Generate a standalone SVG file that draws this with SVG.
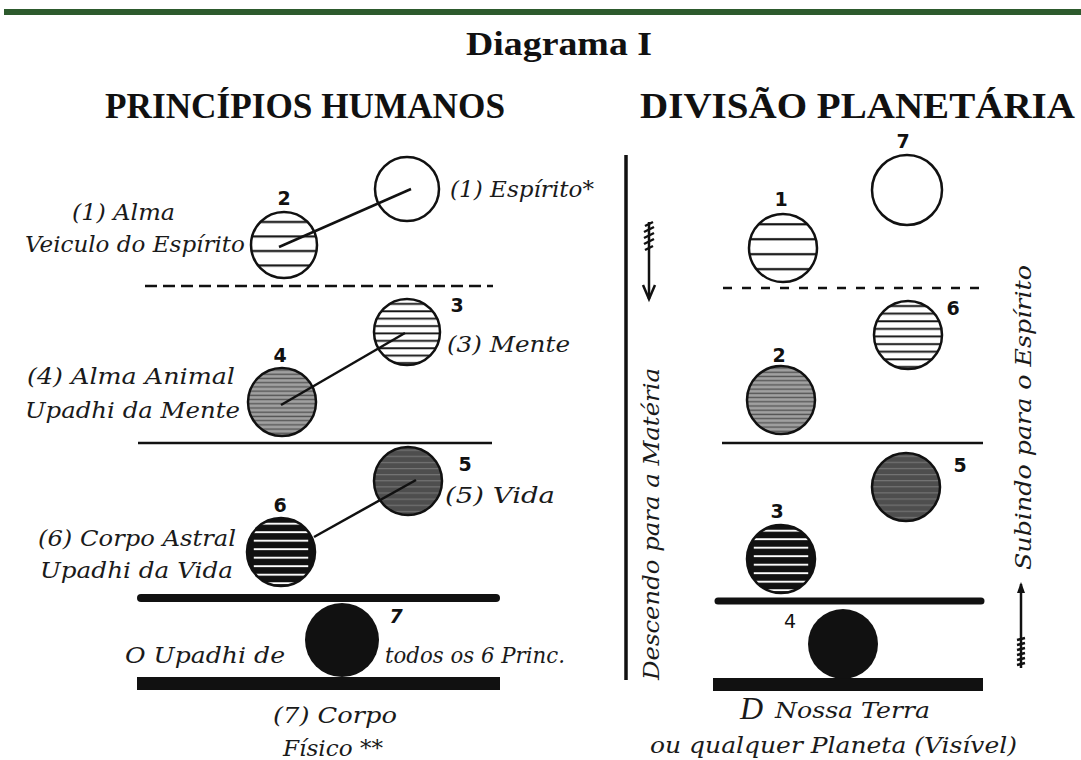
<svg xmlns="http://www.w3.org/2000/svg" width="1081" height="760" viewBox="0 0 1081 760">
<style>
.hd{font-family:"Liberation Serif",serif;font-weight:bold;fill:#111}
.it{font-family:"DejaVu Serif","Liberation Serif",serif;font-style:italic;font-size:22px;fill:#1a1a1a}
.num{font-family:"DejaVu Sans","Liberation Sans",sans-serif;font-weight:bold;font-size:19px;fill:#111;text-anchor:middle}
.c{stroke:#111;stroke-width:2.5}
.ln{stroke:#111;stroke-width:2.5;fill:none}
</style>
<defs>
<pattern id="pWide" patternUnits="objectBoundingBox" width="1" height="0.22" patternContentUnits="objectBoundingBox">
<rect x="0" y="0" width="1" height="0.22" fill="#fff"/><rect x="0" y="0.135" width="1" height="0.032" fill="#111"/>
</pattern>
<pattern id="pNarrow" patternUnits="objectBoundingBox" width="1" height="0.112" patternContentUnits="objectBoundingBox">
<rect x="0" y="0" width="1" height="0.112" fill="#fff"/><rect x="0" y="0.06" width="1" height="0.028" fill="#111"/>
</pattern>
<pattern id="pGrey" patternUnits="objectBoundingBox" width="1" height="0.062" patternContentUnits="objectBoundingBox">
<rect x="0" y="0" width="1" height="0.062" fill="#a0a0a0"/><rect x="0" y="0.02" width="1" height="0.02" fill="#555"/>
</pattern>
<pattern id="pDark" patternUnits="objectBoundingBox" width="1" height="0.09" patternContentUnits="objectBoundingBox">
<rect x="0" y="0" width="1" height="0.09" fill="#4e4e4e"/><rect x="0" y="0.04" width="1" height="0.015" fill="#7a7a7a"/>
</pattern>
<pattern id="pBlack" patternUnits="objectBoundingBox" width="1" height="0.125" patternContentUnits="objectBoundingBox">
<rect x="0" y="0" width="1" height="0.125" fill="#111"/><rect x="0.1" y="0.07" width="0.8" height="0.028" fill="#fff"/>
</pattern>
</defs>
<rect width="1081" height="760" fill="#fff"/>
<rect x="4" y="9" width="1077" height="6" fill="#2d5a2d"/>

<g id="titles">
<text class="hd" x="559" y="55" font-size="34" text-anchor="middle" textLength="186" lengthAdjust="spacingAndGlyphs">Diagrama I</text>
<text class="hd" x="105" y="118" font-size="35" textLength="400" lengthAdjust="spacingAndGlyphs">PRINCÍPIOS HUMANOS</text>
<text class="hd" x="640" y="118" font-size="35" textLength="435" lengthAdjust="spacingAndGlyphs">DIVISÃO PLANETÁRIA</text>
</g>

<g id="dividers">
<line class="ln" x1="145" y1="286" x2="493" y2="286" stroke-dasharray="12 6"/>
<line class="ln" x1="138" y1="443" x2="492" y2="443" stroke-width="3"/>
<line x1="141" y1="598" x2="496" y2="598" stroke="#111" stroke-width="8" stroke-linecap="round"/>
<rect x="137" y="677" width="363" height="13" fill="#111"/>
<line class="ln" x1="723" y1="288" x2="983" y2="288" stroke-dasharray="9 10"/>
<line class="ln" x1="722" y1="443" x2="983" y2="443" stroke-width="3"/>
<line x1="718" y1="601" x2="981" y2="601" stroke="#111" stroke-width="7" stroke-linecap="round"/>
<rect x="713" y="678" width="270" height="13" fill="#111"/>
<line x1="626" y1="155" x2="626" y2="680" stroke="#111" stroke-width="3.5"/>
</g>

<g id="h1"><circle class="c" cx="407" cy="189" r="32" fill="#fff"/><text class="it" x="450" y="197" textLength="144" lengthAdjust="spacingAndGlyphs">(1) Espírito*</text></g>
<g id="h2"><circle class="c" cx="284" cy="245" r="33" fill="url(#pWide)"/><text class="num" x="284" y="205">2</text>
<text class="it" x="72" y="220" textLength="103" lengthAdjust="spacingAndGlyphs">(1) Alma</text>
<text class="it" x="25" y="252" textLength="220" lengthAdjust="spacingAndGlyphs">Veiculo do Espírito</text></g>
<g id="h3"><circle class="c" cx="407" cy="332" r="33" fill="url(#pNarrow)"/><text class="num" x="457" y="312">3</text>
<text class="it" x="447" y="352" textLength="123" lengthAdjust="spacingAndGlyphs">(3) Mente</text></g>
<g id="h4"><circle class="c" cx="282" cy="402" r="34" fill="url(#pGrey)"/><text class="num" x="280" y="362">4</text>
<text class="it" x="27" y="384" textLength="208" lengthAdjust="spacingAndGlyphs">(4) Alma Animal</text>
<text class="it" x="25" y="418" textLength="215" lengthAdjust="spacingAndGlyphs">Upadhi da Mente</text></g>
<g id="h5"><circle class="c" cx="408" cy="481" r="34" fill="url(#pDark)"/><text class="num" x="465" y="471">5</text>
<text class="it" x="445" y="503" textLength="110" lengthAdjust="spacingAndGlyphs">(5) Vida</text></g>
<g id="h6"><circle class="c" cx="281" cy="552" r="34" fill="url(#pBlack)"/><text class="num" x="280" y="512">6</text>
<text class="it" x="38" y="546" textLength="198" lengthAdjust="spacingAndGlyphs">(6) Corpo Astral</text>
<text class="it" x="40" y="578" textLength="193" lengthAdjust="spacingAndGlyphs">Upadhi da Vida</text></g>
<g id="h7"><circle cx="342" cy="640" r="37" fill="#111"/><text class="num" x="396" y="623" style="font-style:italic">7</text>
<text class="it" x="125" y="663" textLength="160" lengthAdjust="spacingAndGlyphs">O Upadhi de</text>
<text class="it" x="385" y="663" textLength="180" lengthAdjust="spacingAndGlyphs">todos os 6 Princ.</text>
<text class="it" x="273" y="723" textLength="124" lengthAdjust="spacingAndGlyphs">(7) Corpo</text>
<text class="it" x="283" y="756" textLength="100" lengthAdjust="spacingAndGlyphs">Físico **</text></g>

<g id="connectors">
<line class="ln" x1="411" y1="189" x2="279" y2="247"/>
<line class="ln" x1="405" y1="333" x2="281" y2="405"/>
<line class="ln" x1="416" y1="480" x2="314" y2="537" stroke-width="2"/>
</g>

<g id="p7"><circle class="c" cx="907" cy="190" r="35" fill="#fff"/><text class="num" x="903" y="148">7</text></g>
<g id="p1"><circle class="c" cx="783" cy="248" r="34" fill="url(#pWide)"/><text class="num" x="781" y="206">1</text></g>
<g id="p6"><circle class="c" cx="908" cy="335" r="34" fill="url(#pNarrow)"/><text class="num" x="953" y="315">6</text></g>
<g id="p2"><circle class="c" cx="781" cy="400" r="34" fill="url(#pGrey)"/><text class="num" x="779" y="362">2</text></g>
<g id="p5"><circle class="c" cx="906" cy="487" r="34" fill="url(#pDark)"/><text class="num" x="960" y="472">5</text></g>
<g id="p3"><circle class="c" cx="781" cy="559" r="34" fill="url(#pBlack)"/><text class="num" x="777" y="518">3</text></g>
<g id="p4"><circle cx="843" cy="644" r="35" fill="#111"/><text class="num" x="790" y="628" style="font-weight:normal">4</text>
<text class="it" x="740" y="719" style="font-size:32px;font-family:'Liberation Serif',serif">D</text>
<text class="it" x="775" y="718" textLength="155" lengthAdjust="spacingAndGlyphs">Nossa Terra</text>
<text class="it" x="650" y="753" textLength="367" lengthAdjust="spacingAndGlyphs">ou qualquer Planeta (Visível)</text></g>

<g id="arrows">
<line class="ln" x1="649" y1="222" x2="649" y2="299" stroke-width="2.5"/>
<path d="M643 285 L649 299 L655 285" class="ln" stroke-width="2.5"/>
<path d="M645 226 L653 222 M644 232 L654 227 M644 238 L654 233 M644 244 L654 239 M645 250 L653 246" class="ln" stroke-width="2.5"/>
<text class="it" transform="translate(659,680) rotate(-90)" style="font-size:23px" textLength="312" lengthAdjust="spacingAndGlyphs">Descendo para a Matéria</text>
<line class="ln" x1="1021" y1="584" x2="1021" y2="668" stroke-width="2"/>
<path d="M1017 593 L1021 582 L1025 593 Z" fill="#111"/>
<path d="M1017 640 L1025 638 M1017 645 L1025 643 M1017 650 L1025 648 M1017 655 L1025 653 M1017 660 L1025 658 M1017 665 L1025 663" class="ln" stroke-width="2"/>
<text class="it" transform="translate(1031,570) rotate(-90)" style="font-size:23px" textLength="305" lengthAdjust="spacingAndGlyphs">Subindo para o Espírito</text>
</g>
</svg>
